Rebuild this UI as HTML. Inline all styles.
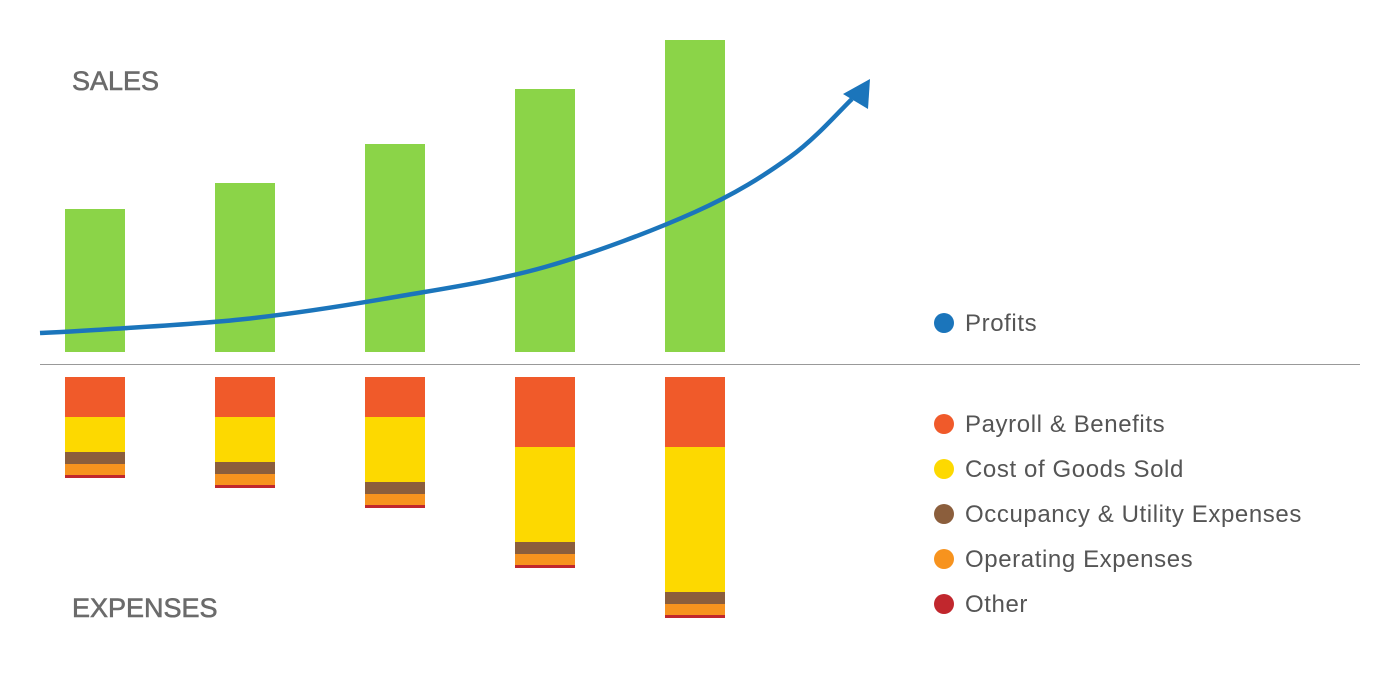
<!DOCTYPE html>
<html><head><meta charset="utf-8"><style>
html,body{margin:0;padding:0;background:#fff;}
svg{display:block;font-family:"Liberation Sans",sans-serif;}
</style></head><body>
<svg id="chart" width="1400" height="680" viewBox="0 0 1400 680">
<text x="72" y="90" font-size="27" fill="#6b6b6b" stroke="#6b6b6b" stroke-width="0.6">SALES</text>
<text x="72" y="617" font-size="27" fill="#6b6b6b" stroke="#6b6b6b" stroke-width="0.6">EXPENSES</text>
<line x1="40" y1="364.5" x2="1360" y2="364.5" stroke="#999" stroke-width="1"/>
<g id="bars"></g>
<g id="legend"></g>
</svg>
<script>
const categories=["Y1","Y2","Y3","Y4","Y5"];
const sales=[143,169,208,263,312];
const payroll=[40,40,40,70,70];
const cogs=[35,45,65,95,145];
const occupancy=[12,12,12,12,12];
const operating=[11,11,11,11,11];
const other=[3,3,3,3,3];
const profits=[22,33,55,85,140];
const legendLabels=["Profits","Payroll & Benefits","Cost of Goods Sold","Occupancy & Utility Expenses","Operating Expenses","Other"];

const NS="http://www.w3.org/2000/svg";
const bars=document.getElementById("bars");
const legend=document.getElementById("legend");
const base=352, expTop=377, barW=60;
const xPos=i=>65+i*150;
const yUp=v=>base-v;
function mk(tag,attrs,parent){const e=document.createElementNS(NS,tag);for(const k in attrs)e.setAttribute(k,attrs[k]);parent.appendChild(e);return e;}

categories.forEach((c,i)=>{
  const r=mk("rect",{x:xPos(i),y:yUp(sales[i]),width:barW,height:sales[i],fill:"#8bd448"},bars);
  
  
  let y=expTop;
  const segs=[[payroll,"#f05a2a","payroll"],[cogs,"#fdd900","cogs"],[occupancy,"#8b5e3c","occupancy"],[operating,"#f7931e","operating"],[other,"#c1272d","other"]];
  segs.forEach(s=>{
    const h=s[0][i];
    const e=mk("rect",{x:xPos(i),y:y,width:barW,height:h,fill:s[1]},bars);
    
    
    y+=h;
  });
});

const pts=[[40,yUp(19)]];
profits.forEach((p,i)=>pts.push([xPos(i)+barW/2,yUp(p)]));
pts.push([790,yUp(195)]);
pts.push([852,yUp(253)]);
let d="M"+pts[0][0]+","+pts[0][1];
for(let i=0;i<pts.length-1;i++){
  const p0=pts[Math.max(0,i-1)],p1=pts[i],p2=pts[i+1],p3=pts[Math.min(pts.length-1,i+2)];
  const c1=[p1[0]+(p2[0]-p0[0])/6,p1[1]+(p2[1]-p0[1])/6];
  const c2=[p2[0]-(p3[0]-p1[0])/6,p2[1]-(p3[1]-p1[1])/6];
  d+=` C${c1[0]},${c1[1]} ${c2[0]},${c2[1]} ${p2[0]},${p2[1]}`;
}
const curve=mk("path",{d:d,fill:"none",stroke:"#1b75bb","stroke-width":4.5},bars);


const arrow=mk("polygon",{points:"870,79 843,94 868,109",fill:"#1b75bb"},bars);



const lColors=["#1b75bb","#f05a2a","#fdd900","#8b5e3c","#f7931e","#c1272d"];
const lY=[323,424,469,514,559,604];
legendLabels.forEach((t,i)=>{
  const g=mk("g",{},legend);
  
  
  mk("circle",{cx:944,cy:lY[i],r:10,fill:lColors[i]},g);
  const tx=mk("text",{x:965,y:lY[i]+8,"font-size":24,"letter-spacing":0.6,fill:"#555"},g);
  tx.textContent=t;
});
</script>
</body></html>
